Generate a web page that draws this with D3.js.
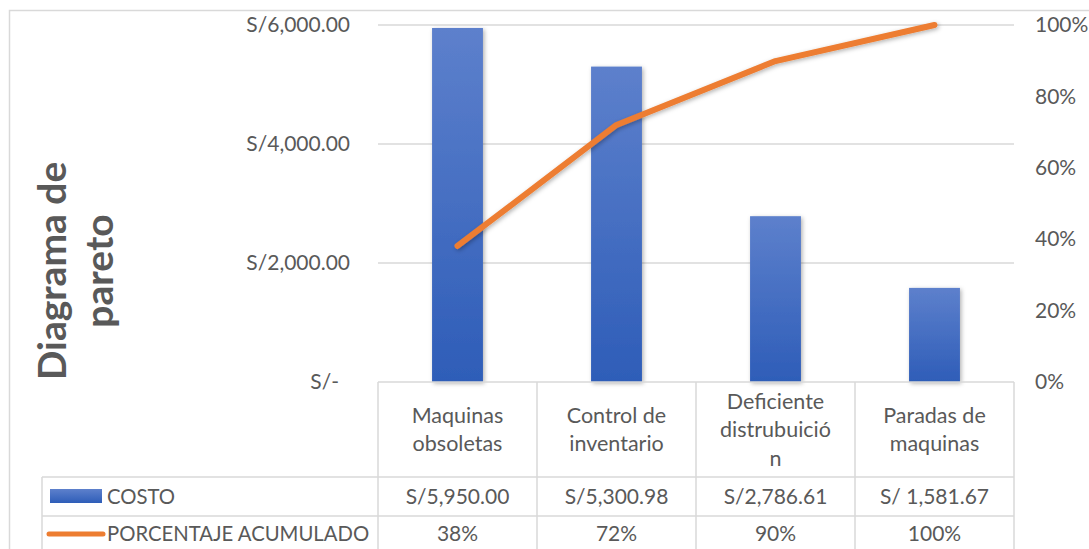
<!DOCTYPE html>
<html>
<head>
<meta charset="utf-8">
<script src="https://cdn.jsdelivr.net/npm/d3@7"></script>
<style>
  body { margin: 0; background: #fff; }
  text { font-family: Lato, "Open Sans", sans-serif; fill: #595959; }
</style>
</head>
<body>
<script>
// data
var categories = ["Maquinas obsoletas", "Control de inventario", "Deficiente distrubuición", "Paradas de maquinas"];
var categoryLines = [["Maquinas", "obsoletas"], ["Control de", "inventario"], ["Deficiente", "distrubuició", "n"], ["Paradas de", "maquinas"]];
var costo = [5950.00, 5300.98, 2786.61, 1581.67];
var costoLabels = ["S/5,950.00", "S/5,300.98", "S/2,786.61", "S/ 1,581.67"];
var acumulado = [0.381, 0.720, 0.899, 1.00];
var costTicks = [0, 2000, 4000, 6000];
var pctTicks = [0, 0.2, 0.4, 0.6, 0.8, 1.0];
var seriesNames = ["COSTO", "PORCENTAJE ACUMULADO"];

var w = 1089, h = 549;
var plotL = 378, plotR = 1014, plotT = 25, plotB = 382;
var tableL = 42, row1 = 477, row2 = 516, row3 = 555;

var svg = d3.select("body").append("svg")
    .attr("width", w)
    .attr("height", h);

var defs = svg.append("defs");
var grad = defs.append("linearGradient")
    .attr("id", "barGrad")
    .attr("x1", 0).attr("y1", 0).attr("x2", 0).attr("y2", 1);
grad.append("stop").attr("offset", "0%").attr("stop-color", "#5d80cc");
grad.append("stop").attr("offset", "100%").attr("stop-color", "#2e5db8");

var shadow = defs.append("filter").attr("id", "shadow")
    .attr("x", "-20%").attr("y", "-20%").attr("width", "140%").attr("height", "140%");
shadow.append("feDropShadow")
    .attr("dx", 1.5).attr("dy", 1.5)
    .attr("stdDeviation", 2)
    .attr("flood-color", "#000")
    .attr("flood-opacity", 0.3);

// outer frame
svg.append("rect")
    .attr("x", 9.5).attr("y", 10.5)
    .attr("width", w).attr("height", h)
    .attr("fill", "none")
    .attr("stroke", "#d9d9d9")
    .attr("stroke-width", 1.5);

//Scales
var x = d3.scaleBand().domain(categories).range([plotL, plotR]).paddingInner(0).paddingOuter(0);
var y = d3.scaleLinear().domain([0, 6000]).range([plotB, plotT]);
var y2 = d3.scaleLinear().domain([0, 1]).range([plotB, plotT]);
var barW = x.bandwidth() * 0.32;

// gridlines
svg.append("g").selectAll("line")
    .data(costTicks.slice(1))
    .enter().append("line")
    .attr("x1", plotL).attr("x2", plotR)
    .attr("y1", function(d) { return y(d); })
    .attr("y2", function(d) { return y(d); })
    .attr("stroke", "#d9d9d9")
    .attr("stroke-width", 1.5);

// left axis
var moneyFmt = d3.format(",.2f");
var leftAxis = svg.append("g")
    .attr("transform", "translate(" + plotL + ",0)")
    .call(d3.axisLeft(y).tickValues(costTicks).tickSize(0).tickPadding(28)
        .tickFormat(function(d) { return d === 0 ? "S/-" : "S/" + moneyFmt(d); }));
leftAxis.select(".domain").remove();
leftAxis.selectAll("text")
    .attr("font-family", null)
    .style("font-size", "21px")
    .attr("dx", function(d) { return d === 0 ? -11 : 0; });

// right axis
var rightAxis = svg.append("g")
    .attr("transform", "translate(" + plotR + ",0)")
    .call(d3.axisRight(y2).tickValues(pctTicks).tickSize(0).tickPadding(21)
        .tickFormat(d3.format(".0%")));
rightAxis.select(".domain").remove();
rightAxis.selectAll("text")
    .attr("font-family", null)
    .style("font-size", "21px");

// bars
svg.append("g").selectAll("rect")
    .data(costo)
    .enter().append("rect")
    .attr("x", function(d, i) { return x(categories[i]) + (x.bandwidth() - barW) / 2; })
    .attr("y", function(d) { return y(d); })
    .attr("width", barW)
    .attr("height", function(d) { return y(0) - y(d); })
    .attr("fill", "url(#barGrad)")
    .attr("filter", "url(#shadow)");

// line
var line = d3.line()
    .x(function(d, i) { return x(categories[i]) + x.bandwidth() / 2; })
    .y(function(d) { return y2(d); });

svg.append("path")
    .datum(acumulado)
    .attr("d", line)
    .attr("fill", "none")
    .attr("stroke", "#ed7d31")
    .attr("stroke-width", 6)
    .attr("stroke-linecap", "round")
    .attr("stroke-linejoin", "round")
    .attr("filter", "url(#shadow)");

// data table
var table = svg.append("g")
    .attr("stroke", "#d9d9d9")
    .attr("stroke-width", 1.5);

table.append("line").attr("x1", plotL).attr("x2", plotR).attr("y1", plotB).attr("y2", plotB);
table.append("line").attr("x1", tableL).attr("x2", plotR).attr("y1", row1).attr("y2", row1);
table.append("line").attr("x1", tableL).attr("x2", plotR).attr("y1", row2).attr("y2", row2);
table.append("line").attr("x1", tableL).attr("x2", plotR).attr("y1", row3).attr("y2", row3);
table.append("line").attr("x1", tableL).attr("x2", tableL).attr("y1", row1).attr("y2", row3);

table.selectAll(".vline")
    .data(categories.concat(["end"]))
    .enter().append("line")
    .attr("class", "vline")
    .attr("x1", function(d) { return d === "end" ? plotR : x(d); })
    .attr("x2", function(d) { return d === "end" ? plotR : x(d); })
    .attr("y1", plotB).attr("y2", row3);

// category labels
var lineH = 28.5;
var catG = svg.append("g").selectAll("text")
    .data(categoryLines)
    .enter().append("text")
    .attr("text-anchor", "middle")
    .style("font-size", "21.5px")
    .attr("x", function(d, i) { return x(categories[i]) + x.bandwidth() / 2; })
    .attr("y", function(d) { return (plotB + row1) / 2 - (d.length - 1) * lineH / 2; });

catG.selectAll("tspan")
    .data(function(d, i) { return d.map(function(t) { return { t: t, i: i }; }); })
    .enter().append("tspan")
    .attr("x", function(d) { return x(categories[d.i]) + x.bandwidth() / 2; })
    .attr("dy", function(d, j) { return j === 0 ? "0.35em" : lineH; })
    .text(function(d) { return d.t; });

// value rows
var pctFmt = d3.format(".0%");
svg.append("g").selectAll("text")
    .data(costoLabels)
    .enter().append("text")
    .attr("text-anchor", "middle")
    .style("font-size", "21px")
    .attr("x", function(d, i) { return x(categories[i]) + x.bandwidth() / 2; })
    .attr("y", (row1 + row2) / 2)
    .attr("dy", "0.35em")
    .text(function(d) { return d; });

svg.append("g").selectAll("text")
    .data(acumulado)
    .enter().append("text")
    .attr("text-anchor", "middle")
    .style("font-size", "21px")
    .attr("x", function(d, i) { return x(categories[i]) + x.bandwidth() / 2; })
    .attr("y", (row2 + row3) / 2 - 2)
    .attr("dy", "0.35em")
    .text(function(d) { return pctFmt(d); });

// legend keys in the table
svg.append("rect")
    .attr("x", 50).attr("y", 489)
    .attr("width", 52).attr("height", 14)
    .attr("fill", "url(#barGrad)");

svg.append("line")
    .attr("x1", 49).attr("x2", 103)
    .attr("y1", 534).attr("y2", 534)
    .attr("stroke", "#ed7d31")
    .attr("stroke-width", 5)
    .attr("stroke-linecap", "round");

svg.append("g").selectAll("text")
    .data(seriesNames)
    .enter().append("text")
    .style("font-size", "20.3px")
    .attr("x", 107)
    .attr("y", function(d, i) { return i === 0 ? (row1 + row2) / 2 : (row2 + row3) / 2 - 2; })
    .attr("dy", "0.35em")
    .text(function(d) { return d; });

// title
var title = svg.append("text")
    .attr("transform", "translate(66,271) rotate(-90)")
    .attr("text-anchor", "middle")
    .style("font-size", "39px")
    .style("font-weight", "bold");
title.append("tspan").attr("x", 0).attr("y", 0).text("Diagrama de");
title.append("tspan").attr("x", 0).attr("y", 47).text("pareto");
</script>
</body>
</html>
